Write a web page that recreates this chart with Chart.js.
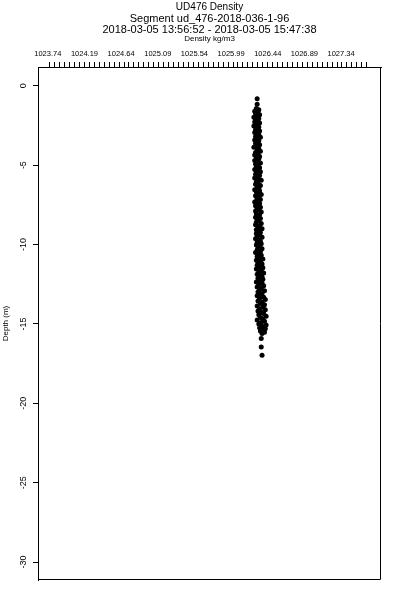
<!DOCTYPE html>
<html>
<head>
<meta charset="utf-8">
<script src="https://cdn.jsdelivr.net/npm/chart.js@4/dist/chart.umd.min.js"></script>
<style>
html,body{margin:0;padding:0;background:#fff;}
canvas{display:block;}
</style>
</head>
<body>
<canvas id="c" width="400" height="600"></canvas>
<script>
// ---- data ----
const TITLE_LINE = "UD476 Density";
const SUBTITLE_LINES = ["Segment ud_476-2018-036-1-96", "2018-03-05 13:56:52 - 2018-03-05 15:47:38"];
const X_TITLE = "Density kg/m3";
const Y_TITLE = "Depth (m)";

const X_TICK_LABELS = [1023.74, 1024.19, 1024.64, 1025.09, 1025.54, 1025.99, 1026.44, 1026.89, 1027.34];
const Y_TICK_LABELS = [0, -5, -10, -15, -20, -25, -30];
const X_RANGE = [1023.62, 1027.83];
const Y_RANGE = [-31.13, 1.18];
const MINOR_START = 1023.764;
const MINOR_STEP = 0.0608;
const MINOR_COUNT = 65;

const depth = [
 -0.82,-1.17,-1.44,-1.52,-1.61,-1.66,-1.75,-1.83,-1.89,-1.98,
 -2.06,-2.11,-2.22,-2.29,-2.35,-2.46,-2.53,-2.60,-2.71,-2.77,
 -2.85,-2.94,-3.01,-3.08,-3.19,-3.24,-3.33,-3.41,-3.47,-3.58,
 -3.64,-3.72,-3.83,-3.88,-3.97,-4.05,-4.13,-4.20,-4.31,-4.36,
 -4.45,-4.54,-4.60,-4.71,-4.77,-4.86,-4.93,-5.02,-5.10,-5.16,
 -5.27,-5.33,-5.41,-5.50,-5.57,-5.66,-5.72,-5.81,-5.90,-5.96,
 -6.05,-6.13,-6.21,-6.28,-6.37,-6.44,-6.55,-6.61,-6.69,-6.78,
 -6.85,-6.93,-7.02,-7.08,-7.17,-7.26,-7.32,-7.41,-7.49,-7.56,
 -7.66,-7.72,-7.80,-7.89,-7.96,-8.04,-8.13,-8.19,-8.28,-8.36,
 -8.43,-8.52,-8.60,-8.67,-8.76,-8.83,-8.91,-9.00,-9.07,-9.15,
 -9.24,-9.31,-9.39,-9.48,-9.55,-9.63,-9.72,-9.79,-9.87,-9.96,
 -10.03,-10.11,-10.20,-10.27,-10.35,-10.44,-10.51,-10.59,-10.68,-10.75,
 -10.83,-10.92,-10.99,-11.07,-11.16,-11.23,-11.31,-11.40,-11.47,-11.55,
 -11.64,-11.71,-11.79,-11.88,-11.95,-12.03,-12.12,-12.19,-12.27,-12.36,
 -12.43,-12.51,-12.60,-12.67,-12.75,-12.84,-12.91,-12.99,-13.08,-13.15,
 -13.23,-13.32,-13.39,-13.47,-13.56,-13.63,-13.71,-13.80,-13.87,-13.95,
 -14.04,-14.11,-14.19,-14.28,-14.35,-14.43,-14.52,-14.59,-14.67,-14.76,
 -14.83,-14.91,-15.00,-15.07,-15.15,-15.24,-15.31,-15.38,-15.45,-15.52,
 -15.60,-15.92,-16.45,-16.97
];
const density = [
 1026.31,1026.31,1026.30,1026.33,1026.28,1026.32,1026.29,1026.34,1026.30,1026.27,
 1026.33,1026.29,1026.32,1026.28,1026.34,1026.30,1026.27,1026.33,1026.31,1026.29,
 1026.34,1026.28,1026.31,1026.33,1026.29,1026.35,1026.30,1026.28,1026.33,1026.31,
 1026.29,1026.34,1026.30,1026.27,1026.33,1026.31,1026.35,1026.29,1026.32,1026.28,
 1026.34,1026.30,1026.33,1026.28,1026.31,1026.35,1026.29,1026.32,1026.30,1026.34,
 1026.28,1026.32,1026.35,1026.30,1026.29,1026.34,1026.31,1026.28,1026.33,1026.36,
 1026.30,1026.32,1026.29,1026.35,1026.31,1026.33,1026.28,1026.34,1026.30,1026.32,
 1026.36,1026.29,1026.33,1026.31,1026.35,1026.30,1026.28,1026.34,1026.32,1026.29,
 1026.35,1026.31,1026.33,1026.29,1026.36,1026.30,1026.34,1026.32,1026.29,1026.35,
 1026.31,1026.33,1026.30,1026.36,1026.29,1026.34,1026.32,1026.37,1026.30,1026.33,
 1026.35,1026.30,1026.34,1026.31,1026.37,1026.29,1026.33,1026.35,1026.31,1026.36,
 1026.30,1026.34,1026.32,1026.37,1026.31,1026.35,1026.29,1026.33,1026.36,1026.31,
 1026.34,1026.38,1026.30,1026.35,1026.32,1026.37,1026.31,1026.34,1026.38,1026.30,
 1026.36,1026.33,1026.39,1026.31,1026.35,1026.37,1026.32,1026.38,1026.34,1026.30,
 1026.37,1026.33,1026.39,1026.31,1026.36,1026.34,1026.40,1026.32,1026.37,1026.35,
 1026.31,1026.39,1026.34,1026.41,1026.32,1026.37,1026.35,1026.40,1026.31,1026.38,
 1026.34,1026.41,1026.32,1026.37,1026.39,1026.33,1026.42,1026.35,1026.38,1026.31,
 1026.40,1026.36,1026.33,1026.42,1026.37,1026.34,1026.41,1026.38,1026.35,1026.40,
 1026.37,1026.36,1026.36,1026.37
];

// ---- chart ----
const FONT = '"Liberation Sans", Arial, sans-serif';
const points = depth.map((d, i) => ({ x: density[i], y: d }));

const boxPlugin = {
  id: 'box',
  afterDraw(chart) {
    const a = chart.chartArea, ctx = chart.ctx;
    ctx.save();
    ctx.strokeStyle = '#000';
    ctx.lineWidth = 1;
    ctx.beginPath();
    ctx.rect(Math.round(a.left) + 0.5, Math.round(a.top) + 0.5,
             Math.round(a.right - a.left) - 1, Math.round(a.bottom - a.top) - 1);
    ctx.stroke();
    ctx.restore();
  }
};

new Chart(document.getElementById('c'), {
  type: 'scatter',
  data: {
    datasets: [{
      data: points,
      pointRadius: 2.5,
      pointHoverRadius: 2.5,
      backgroundColor: '#000',
      borderWidth: 0
    }]
  },
  plugins: [boxPlugin],
  options: {
    responsive: false,
    animation: false,
    events: [],
    layout: { padding: { top: 2, left: 0, right: 19, bottom: 20 } },
    plugins: {
      legend: { display: false },
      tooltip: { enabled: false },
      title: {
        display: true, fullSize: false, text: TITLE_LINE, color: '#000',
        font: { family: FONT, size: 10, weight: 'normal', lineHeight: 1.1 },
        padding: 0
      },
      subtitle: {
        display: true, fullSize: false, text: SUBTITLE_LINES, color: '#000',
        font: { family: FONT, size: 11, weight: 'normal', lineHeight: 1.0 },
        padding: 0
      }
    },
    scales: {
      x: {
        type: 'linear', position: 'top', weight: 1,
        min: X_RANGE[0], max: X_RANGE[1],
        afterBuildTicks: s => { s.ticks = X_TICK_LABELS.map(v => ({ value: v })); },
        afterFit: s => { s.height = 27; },
        grid: { display: false, drawTicks: false },
        border: { display: false },
        ticks: {
          autoSkip: false, maxRotation: 0, minRotation: 0, padding: 4,
          color: '#000', font: { family: FONT, size: 7.5 },
          callback: v => v.toFixed(2)
        },
        title: {
          display: true, text: X_TITLE, color: '#000',
          font: { family: FONT, size: 8, lineHeight: 1 }, padding: { top: 0, bottom: 0 }
        }
      },
      x2: {
        type: 'linear', position: 'top', weight: 0,
        min: X_RANGE[0], max: X_RANGE[1],
        afterBuildTicks: s => {
          const t = [];
          for (let i = 0; i < MINOR_COUNT; i++) t.push({ value: MINOR_START + i * MINOR_STEP });
          s.ticks = t;
        },
        grid: { display: true, drawOnChartArea: false, drawTicks: true, tickLength: 5, color: '#000', lineWidth: 1 },
        border: { display: true, color: '#000', width: 1 },
        ticks: { display: false }
      },
      y: {
        type: 'linear', position: 'left',
        min: Y_RANGE[0], max: Y_RANGE[1],
        afterBuildTicks: s => { s.ticks = Y_TICK_LABELS.map(v => ({ value: v })); },
        afterFit: s => { s.width = 38; },
        grid: { display: true, drawOnChartArea: false, drawTicks: true, tickLength: 5, color: '#000', lineWidth: 1 },
        border: { display: true, color: '#000', width: 1 },
        ticks: {
          minRotation: 90, maxRotation: 90, crossAlign: 'center', padding: 3,
          color: '#000', font: { family: FONT, size: 9 },
          callback: v => String(v)
        },
        title: {
          display: true, text: Y_TITLE, color: '#000',
          font: { family: FONT, size: 8, lineHeight: 1 }, padding: { top: 2, bottom: 0 }
        }
      }
    }
  }
});
</script>
</body>
</html>
